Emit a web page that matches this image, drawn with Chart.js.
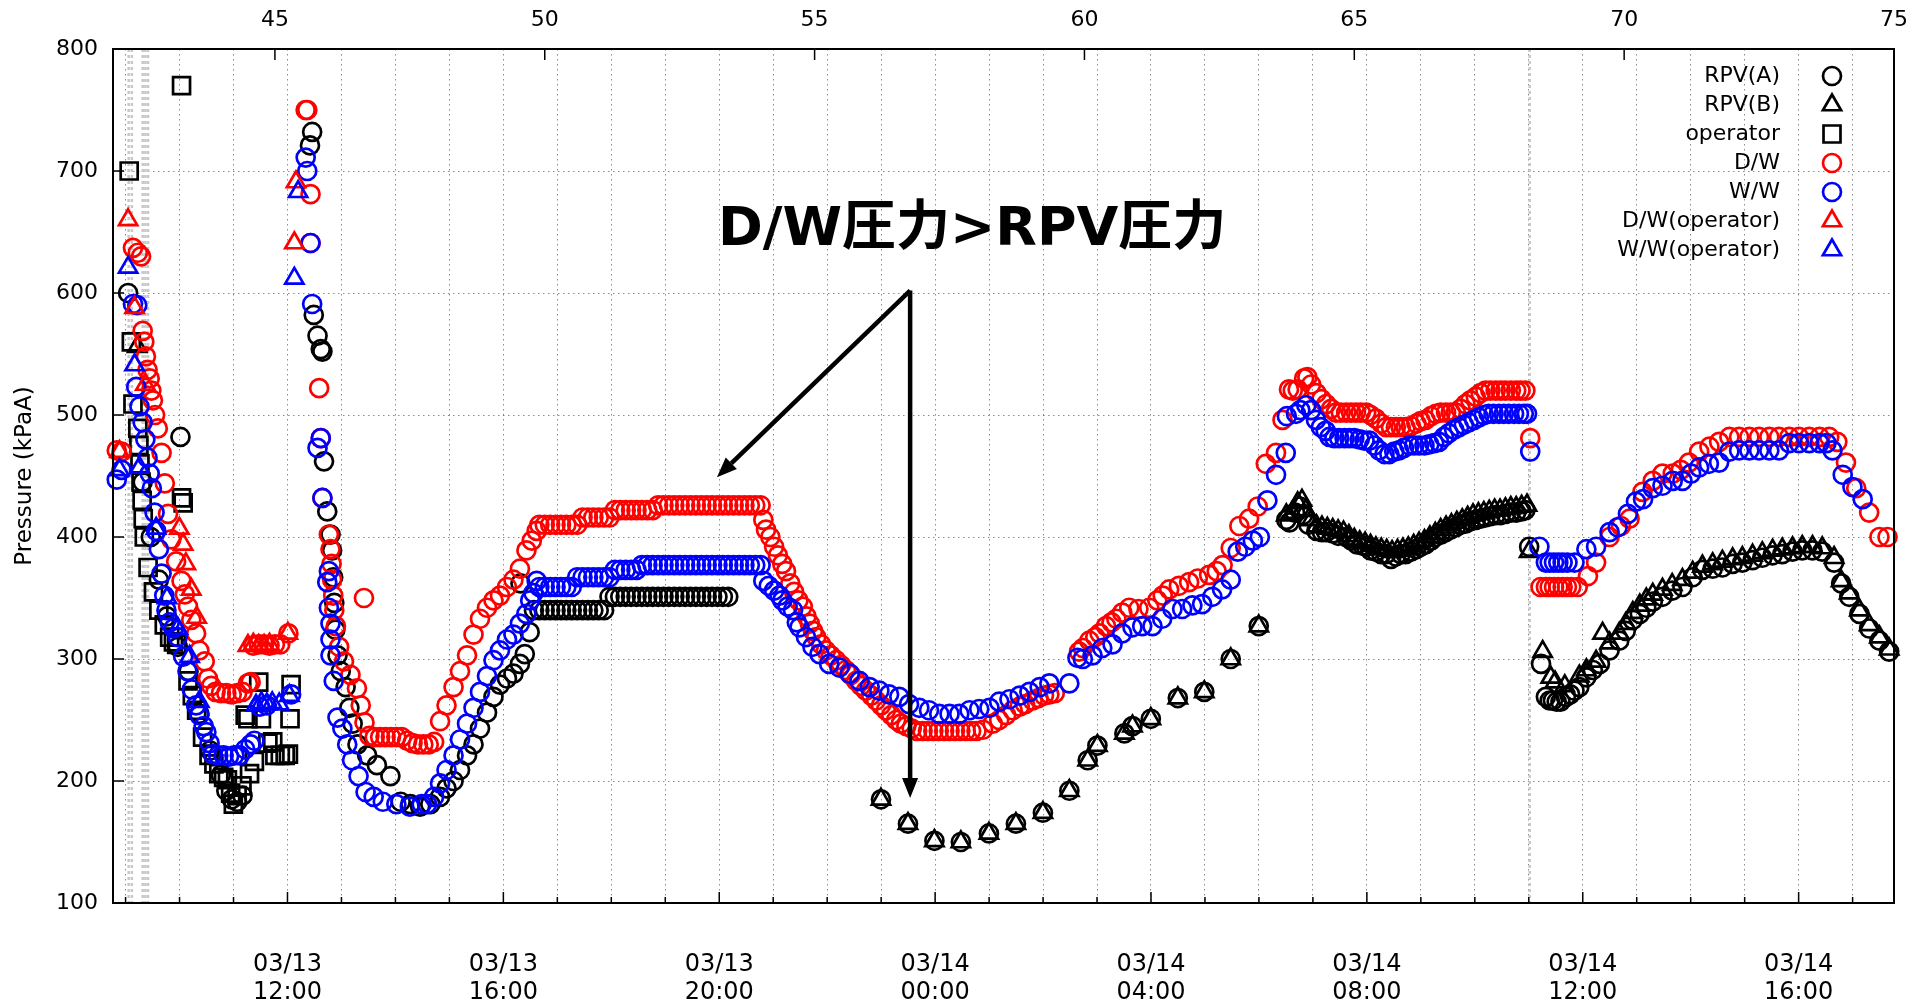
<!DOCTYPE html>
<html>
<head>
<meta charset="utf-8">
<script src="https://cdn.jsdelivr.net/npm/chart.js@4.4.0/dist/chart.umd.min.js"></script>
<style>
  html, body { margin: 0; padding: 0; background: #fff; }
</style>
</head>
<body>
<canvas id="pressureChart" width="1926" height="1003"></canvas>
<script>
// hours after 03/11 14:46, pressure kPaA
const rpvA = [
  [42.28,600],[42.55,445],[42.7,400],[42.85,365],[43.0,335],[43.2,310],[43.25,482],[43.4,290],[43.6,255],[43.8,225],[44.0,205],[44.1,192],[44.2,185],[44.3,183],[44.4,188],
  [45.65,721],[45.69,732],[45.72,582],[45.79,565],[45.85,554],[45.88,552],[45.91,462],[45.97,421],
  [46.03,402],[46.06,389],[46.08,367],[46.1,346],[46.12,324],[46.16,303],[46.22,290],[46.31,277],[46.38,260],[46.44,247],[46.53,230],[46.71,221],[46.89,213],[47.14,204],[47.33,183],[47.51,181],[47.69,179],[47.88,181],
  [48.06,187],[48.18,194],[48.31,200],[48.43,209],[48.56,221],[48.68,230],[48.8,243],[48.93,256],[49.05,269],[49.17,279],[49.3,284],[49.42,288],[49.54,296],[49.55,362],[49.63,304],[49.72,322],
  [49.8,340],[49.9,340],[50.0,340],[50.1,340],[50.2,340],[50.3,340],[50.4,340],[50.5,340],[50.6,340],[50.7,340],[50.8,340],[50.9,340],[51.0,340],[51.1,340],
  [51.2,351],[51.3,351],[51.4,351],[51.5,351],[51.6,351],[51.7,351],[51.8,351],[51.9,351],[52.0,351],[52.1,351],[52.2,351],[52.3,351],[52.4,351],[52.5,351],[52.6,351],[52.7,351],[52.8,351],[52.9,351],[53.0,351],[53.1,351],[53.2,351],[53.3,351],[53.4,351],
  [56.23,185],[56.73,165],[57.22,151],[57.71,150],[58.23,157],[58.73,165],[59.23,174],[59.72,192],[60.06,217],[60.24,229],[60.74,239],[60.89,245],[61.23,251],[61.73,268],[62.22,273],[62.71,300],[63.23,327],
  [63.74,414],[63.8,412],[63.9,420],[63.99,425],[64.05,418],[64.15,410],[64.3,405],[64.4,404],[64.48,404],[64.6,403],[64.7,401],[64.85,400],[64.95,397],[65.05,394],[65.15,393],[65.22,392],[65.3,389],[65.4,388],[65.5,386],[65.59,386],[65.68,382],[65.77,384],[65.86,386],[65.95,386],[66.05,388],[66.15,390],[66.23,392],[66.32,394],[66.42,397],[66.5,400],[66.6,402],[66.69,404],[66.78,406],[66.88,408],[66.97,410],[67.06,411],[67.15,413],[67.25,414],[67.34,415],[67.43,416],[67.52,417],[67.62,418],[67.71,418],[67.8,419],[67.9,420],[68.0,420],[68.1,421],[68.17,422],[68.24,392],
  [68.46,296],[68.55,269],[68.62,266],[68.68,266],[68.75,265],[68.82,265],[68.92,269],[69.0,271],[69.08,274],[69.17,277],[69.3,285],[69.42,291],[69.55,296],[69.73,307],[69.91,315],[70.03,323],[70.16,332],[70.29,337],[70.41,342],[70.53,347],[70.71,351],[70.89,356],[71.08,359],[71.27,367],[71.45,373],[71.64,374],[71.82,375],[72.01,378],[72.19,379],[72.38,381],[72.56,383],[72.75,385],[72.93,386],[73.12,388],[73.3,389],[73.49,389],[73.67,388],[73.89,379],[74.02,362],[74.17,351],[74.36,337],[74.54,325],[74.73,315],[74.91,306]
];

const rpvB = [
  [42.45,556],
  [56.23,185],[56.73,165],[57.22,151],[57.71,150],[58.23,157],[58.73,165],[59.23,174],[59.72,192],[60.06,217],[60.24,229],[60.74,239],[60.89,245],[61.23,251],[61.73,268],[62.22,273],[62.71,300],[63.23,327],
  [63.74,418],[63.85,420],[63.95,428],[64.03,430],[64.1,422],[64.2,414],[64.3,409],[64.4,408],[64.5,407],[64.6,406],[64.7,405],[64.8,404],[64.9,401],[65.0,398],[65.1,396],[65.2,395],[65.3,393],[65.4,391],[65.5,390],[65.6,389],[65.7,388],[65.8,389],[65.9,390],[66.0,391],[66.1,393],[66.2,395],[66.3,397],[66.4,400],[66.5,403],[66.6,406],[66.7,408],[66.8,410],[66.9,412],[67.0,414],[67.1,416],[67.2,418],[67.3,419],[67.4,420],[67.5,421],[67.6,422],[67.7,422],[67.8,423],[67.9,424],[68.0,424],[68.1,425],[68.2,426],[68.24,388],
  [68.49,306],[68.64,285],[68.72,281],[68.9,278],[69.17,286],[69.3,291],[69.48,298],[69.6,321],[69.73,313],[69.91,321],[70.03,329],[70.16,338],[70.29,344],[70.41,349],[70.53,353],[70.71,357],[70.89,361],[71.08,365],[71.27,371],[71.45,376],[71.64,378],[71.82,380],[72.01,382],[72.19,383],[72.38,385],[72.56,387],[72.75,389],[72.93,390],[73.12,391],[73.3,392],[73.49,392],[73.67,391],[73.89,383],[74.02,364],[74.17,354],[74.36,340],[74.54,328],[74.73,318],[74.91,308]
];

const operator = [
  [42.3,700],[43.27,770],[42.34,560],[42.37,509],[42.46,489],[42.48,475],[42.5,460],[42.52,445],[42.54,430],[42.56,415],[42.58,400],[42.65,375],[42.75,355],[42.85,340],[42.95,328],[43.05,318],[43.12,314],[43.18,312],[43.27,432],[43.3,428],
  [43.39,282],[43.47,270],[43.55,258],[43.66,236],[43.78,221],[43.87,214],[43.96,206],[44.05,203],[44.12,201],[44.18,190],[44.23,181],[44.3,188],[44.39,196],[44.45,254],[44.5,251],[44.53,206],[44.62,216],[44.7,281],[44.75,251],[44.87,231],[44.96,232],[45.0,221],[45.1,221],[45.19,221],[45.25,222],[45.28,251],[45.3,279]
];

const dw = [
  [42.07,471],[42.16,470],[42.37,637],[42.46,633],[42.52,630],[42.55,569],[42.58,560],[42.61,548],[42.64,537],[42.68,530],[42.71,520],[42.74,512],[42.78,500],[42.83,489],[42.9,469],[42.96,444],[43.02,419],[43.08,398],[43.17,380],[43.27,364],[43.33,353],[43.39,343],[43.45,332],[43.54,321],[43.6,307],[43.7,298],[43.76,284],[43.82,278],[43.9,273],[44.0,272],[44.1,272],[44.2,271],[44.3,272],[44.4,273],[44.5,280],[44.55,281],[44.6,311],[44.7,312],[44.8,312],[44.9,311],[45.0,312],[45.1,312],[45.25,321],
  [45.57,750],[45.6,750],[45.66,681],[45.66,641],[45.82,522],[45.85,481],[45.88,432],[46.0,402],[46.03,390],[46.05,378],[46.06,365],[46.08,352],[46.1,340],[46.13,327],[46.19,310],[46.28,298],[46.4,287],[46.52,276],[46.59,262],[46.65,350],[46.66,248],[46.75,237],[46.85,236],[46.95,236],[47.05,236],[47.15,236],[47.25,236],[47.35,236],[47.45,233],[47.55,231],[47.65,230],[47.75,230],[47.85,230],[47.95,232],
  [48.06,249],[48.18,262],[48.31,277],[48.43,290],[48.56,303],[48.68,320],[48.8,333],[48.93,342],[49.05,348],[49.17,352],[49.3,359],[49.42,365],[49.54,374],[49.66,389],[49.76,397],[49.85,405],
  [49.9,410],[50.0,410],[50.1,410],[50.2,410],[50.3,410],[50.4,410],[50.5,410],[50.6,410],
  [50.7,416],[50.8,416],[50.9,416],[51.0,416],[51.1,416],[51.2,416],
  [51.3,422],[51.4,422],[51.5,422],[51.6,422],[51.7,422],[51.8,422],[51.9,422],[52.0,422],
  [52.1,426],[52.2,426],[52.3,426],[52.4,426],[52.5,426],[52.6,426],[52.7,426],[52.8,426],[52.9,426],[53.0,426],[53.1,426],[53.2,426],[53.3,426],[53.4,426],[53.5,426],[53.6,426],[53.7,426],[53.8,426],[53.9,426],[54.0,426],
  [54.05,414],[54.1,406],[54.18,400],[54.25,392],[54.32,385],[54.4,378],[54.47,372],[54.55,362],[54.62,355],[54.7,348],[54.78,343],[54.85,335],[54.91,329],[54.97,323],[55.03,318],[55.12,312],[55.21,307],[55.3,303],[55.4,299],[55.49,295],[55.58,291],[55.67,287],[55.77,282],[55.86,278],[55.95,274],[56.05,270],[56.14,266],[56.23,262],[56.32,258],[56.42,254],[56.51,250],[56.6,247],[56.7,245],[56.8,243],[56.9,241],
  [57.0,241],[57.1,241],[57.2,241],[57.3,241],[57.4,241],[57.5,241],[57.6,241],[57.7,241],[57.8,241],[57.9,241],[58.0,241],[58.12,242],[58.3,247],[58.42,250],[58.55,254],[58.67,258],[58.8,261],[58.9,263],[59.04,266],[59.15,268],[59.25,270],[59.35,271],[59.45,272],
  [59.9,306],[59.97,309],[60.09,315],[60.2,318],[60.28,321],[60.4,327],[60.5,330],[60.59,333],[60.7,338],[60.83,342],[61.0,341],[61.2,342],[61.35,348],[61.45,352],[61.57,357],[61.75,360],[61.94,363],[62.1,366],[62.31,369],[62.45,372],[62.56,377],[62.71,391],[62.87,409],[63.05,415],[63.21,425],[63.36,460],[63.55,469],[63.67,496],[63.79,521],[63.86,520],[63.95,521],[64.07,530],[64.13,531],
  [64.2,525],[64.3,518],[64.39,513],[64.48,509],[64.57,505],[64.66,502],[64.75,502],[64.85,502],[64.94,502],[65.03,502],[65.12,502],[65.22,502],[65.3,500],[65.4,497],[65.5,493],[65.59,490],[65.68,490],[65.77,490],[65.86,490],[65.95,490],[66.05,491],[66.15,493],[66.23,495],[66.32,496],[66.42,499],[66.51,501],[66.6,502],[66.7,502],[66.79,502],[66.88,502],[66.97,505],[67.06,509],[67.15,512],[67.25,515],[67.34,518],[67.43,520],[67.52,520],[67.62,520],[67.71,520],[67.8,520],[67.9,520],[68.0,520],[68.08,520],[68.17,520],[68.26,481],
  [68.45,359],[68.55,359],[68.62,359],[68.7,359],[68.78,359],[68.86,359],[68.94,359],[69.02,359],[69.14,359],[69.33,368],[69.48,379],[69.73,400],[69.94,409],[70.1,415],[70.34,437],[70.53,446],[70.71,452],[70.9,452],[71.05,455],[71.2,461],[71.39,470],[71.58,474],[71.76,478],[71.95,482],[72.13,482],[72.32,482],[72.5,482],[72.69,482],[72.87,482],[73.06,482],[73.24,482],[73.43,482],[73.62,482],[73.8,482],[73.95,478],[74.11,461],[74.3,440],[74.54,420],[74.73,400],[74.88,400]
];

const ww = [
  [42.07,447],[42.16,455],[42.37,591],[42.45,590],[42.43,523],[42.49,507],[42.55,494],[42.6,480],[42.64,465],[42.68,452],[42.72,440],[42.77,420],[42.8,405],[42.85,390],[42.9,370],[42.95,352],[42.99,340],[43.05,330],[43.12,325],[43.2,318],[43.3,302],[43.38,290],[43.46,275],[43.54,262],[43.6,254],[43.68,245],[43.73,240],[43.79,231],[43.85,222],[43.95,221],[44.05,221],[44.15,220],[44.25,221],[44.35,221],[44.45,226],[44.55,230],[44.62,233],[44.72,261],[44.85,262],[45.3,271],
  [45.57,711],[45.6,700],[45.66,641],[45.69,591],[45.79,473],[45.85,481],[45.88,432],[46.0,372],[45.97,363],[46.0,342],[46.03,329],[46.03,316],[46.03,303],[46.09,282],[46.16,252],[46.25,243],[46.34,230],[46.43,217],[46.55,204],[46.68,191],[46.83,187],[47.0,183],[47.25,181],[47.5,179],[47.72,181],[47.82,181],[47.95,187],
  [48.06,198],[48.18,209],[48.31,221],[48.43,234],[48.56,247],[48.68,260],[48.8,273],[48.93,286],[49.05,299],[49.17,307],[49.3,316],[49.42,320],[49.54,329],[49.66,337],[49.73,348],[49.79,354],[49.85,364],
  [49.9,359],[50.0,359],[50.1,359],[50.2,359],[50.3,359],[50.4,359],[50.5,359],
  [50.6,367],[50.7,367],[50.8,367],[50.9,367],[51.0,367],[51.1,367],[51.2,367],
  [51.3,373],[51.4,373],[51.5,373],[51.6,373],[51.7,373],
  [51.8,377],[51.9,377],[52.0,377],[52.1,377],[52.2,377],[52.3,377],[52.4,377],[52.5,377],[52.6,377],[52.7,377],[52.8,377],[52.9,377],[53.0,377],[53.1,377],[53.2,377],[53.3,377],[53.4,377],[53.5,377],[53.6,377],[53.7,377],[53.8,377],[53.9,377],[54.0,377],
  [54.05,364],[54.15,360],[54.25,356],[54.35,352],[54.4,348],[54.5,343],[54.6,340],[54.67,330],[54.72,326],[54.84,318],[54.96,310],[55.09,304],[55.27,296],[55.46,293],[55.65,288],[55.83,282],[56.02,277],[56.2,274],[56.38,271],[56.57,269],[56.75,263],[56.94,260],[57.12,258],[57.31,255],[57.5,255],[57.68,255],[57.87,258],[58.05,259],[58.24,260],[58.42,265],[58.61,267],[58.8,270],[58.98,273],[59.17,277],[59.35,280],[59.72,280],
  [59.87,301],[59.97,300],[60.15,303],[60.33,309],[60.52,312],[60.7,321],[60.89,326],[61.07,327],[61.26,327],[61.44,333],[61.63,341],[61.81,341],[62.0,344],[62.18,345],[62.37,351],[62.55,357],[62.71,365],[62.84,388],[62.98,392],[63.12,397],[63.25,400],[63.39,430],[63.55,451],[63.73,469],[63.75,499],[63.92,501],[64.0,504],[64.11,508],
  [64.2,504],[64.29,496],[64.38,490],[64.47,487],[64.54,482],[64.63,481],[64.72,481],[64.82,481],[64.91,481],[65.0,481],[65.1,480],[65.19,479],[65.28,479],[65.37,475],[65.46,471],[65.56,468],[65.65,468],[65.74,470],[65.83,471],[65.92,473],[66.02,475],[66.11,475],[66.2,475],[66.3,475],[66.39,476],[66.48,477],[66.57,478],[66.66,482],[66.75,485],[66.85,488],[66.94,490],[67.03,492],[67.12,494],[67.22,496],[67.31,498],[67.4,500],[67.49,501],[67.58,501],[67.68,501],[67.77,501],[67.86,501],[67.96,501],[68.05,501],[68.14,501],[68.2,501],[68.26,470],
  [68.43,392],[68.55,379],[68.62,379],[68.7,379],[68.78,379],[68.86,379],[68.95,379],[69.08,379],[69.3,390],[69.48,392],[69.73,404],[69.88,408],[70.07,419],[70.22,429],[70.35,431],[70.53,440],[70.71,442],[70.9,446],[71.08,446],[71.24,452],[71.39,457],[71.57,460],[71.76,461],[71.95,470],[72.13,471],[72.32,471],[72.5,471],[72.69,471],[72.87,471],[73.06,477],[73.24,477],[73.43,477],[73.62,477],[73.75,477],[73.86,471],[74.05,451],[74.23,441],[74.42,431]
];

const dwOperator = [
  [42.12,470],[42.28,660],[42.4,588],[42.6,525],[43.23,407],[43.3,394],[43.35,378],[43.45,357],[43.55,334],[44.5,311],[44.6,312],[44.7,311],[44.8,311],[44.9,312],[45.24,321],[45.36,641],[45.39,691]
];

const wwOperator = [
  [42.12,455],[42.28,621],[42.4,541],[42.49,457],[42.8,407],[43.0,350],[43.2,325],[43.42,302],[43.6,265],[44.65,262],[44.75,264],[44.85,263],[44.95,264],[45.08,263],[45.27,270],[45.36,612],[45.43,683]
];

const seriesNames = ["RPV(A)", "RPV(B)", "operator", "D/W", "W/W", "D/W(operator)", "W/W(operator)"];
const topTicks = [45, 50, 55, 60, 65, 70, 75];
const dateTickHours = [45.233, 49.233, 53.233, 57.233, 61.233, 65.233, 69.233, 73.233];
const dateLabels = [
  ["03/13", "12:00"], ["03/13", "16:00"], ["03/13", "20:00"], ["03/14", "00:00"],
  ["03/14", "04:00"], ["03/14", "08:00"], ["03/14", "12:00"], ["03/14", "16:00"]
];
const eventHours = [42.29, 42.35, 42.55, 42.6, 42.65, 68.25];

const noteText = "D/W圧力>RPV圧力";
const notePos = [53.21, 651];
const arrowFrom = [56.77, 602];
const arrowTips = [[53.19, 449], [56.77, 186]];

const FONT = "'DejaVu Sans', 'Noto Sans CJK JP', sans-serif";

// every hour on the clock, used for the dotted grid
const hourGrid = [];
for (let h = 42.233; h < 75; h += 1) hourGrid.push(+h.toFixed(3));

const toPoints = (rows) => rows.map(([x, y]) => ({ x: x, y: y }));

const styles = [
  { color: "#000000", shape: "circle", r: 9 },
  { color: "#000000", shape: "triangle", r: 10.5 },
  { color: "#000000", shape: "rect", r: 12 },
  { color: "#ff0000", shape: "circle", r: 9 },
  { color: "#0000ff", shape: "circle", r: 9 },
  { color: "#ff0000", shape: "triangle", r: 10.5 },
  { color: "#0000ff", shape: "triangle", r: 10.5 }
];
const seriesData = [rpvA, rpvB, operator, dw, ww, dwOperator, wwOperator];

const datasets = seriesData.map((rows, i) => ({
  label: seriesNames[i],
  data: toPoints(rows),
  pointStyle: styles[i].shape,
  pointRadius: styles[i].r,
  borderColor: styles[i].color,
  backgroundColor: "rgba(0,0,0,0)",
  borderWidth: 2.7,
  showLine: false,
  clip: false,
  order: 10 - i
}));

function markerPath(ctx, shape, r, cx, cy) {
  ctx.beginPath();
  if (shape === "circle") {
    ctx.arc(cx, cy, r, 0, Math.PI * 2);
  } else if (shape === "rect") {
    const s = r * Math.SQRT1_2;
    ctx.rect(cx - s, cy - s, 2 * s, 2 * s);
  } else {
    let a = 0;
    ctx.moveTo(cx + Math.sin(a) * r, cy - Math.cos(a) * r);
    a += Math.PI * 2 / 3;
    ctx.lineTo(cx + Math.sin(a) * r, cy - Math.cos(a) * r);
    a += Math.PI * 2 / 3;
    ctx.lineTo(cx + Math.sin(a) * r, cy - Math.cos(a) * r);
    ctx.closePath();
  }
}

function drawArrow(ctx, x1, y1, x2, y2) {
  const ang = Math.atan2(y2 - y1, x2 - x1);
  const len = 20, half = 8;
  const bx = x2 - Math.cos(ang) * len, by = y2 - Math.sin(ang) * len;
  ctx.beginPath();
  ctx.moveTo(x1, y1);
  ctx.lineTo(bx, by);
  ctx.stroke();
  ctx.beginPath();
  ctx.moveTo(x2, y2);
  ctx.lineTo(bx + Math.sin(ang) * half, by - Math.cos(ang) * half);
  ctx.lineTo(bx - Math.sin(ang) * half, by + Math.cos(ang) * half);
  ctx.closePath();
  ctx.fill();
}

const overlay = {
  id: "overlay",
  beforeDatasetsDraw(chart) {
    const { ctx, chartArea: a } = chart;
    const x = chart.scales.x;
    ctx.save();
    ctx.strokeStyle = "#c8c8c8";
    ctx.lineWidth = 2.5;
    ctx.setLineDash([3, 3]);
    eventHours.forEach((h) => {
      const px = x.getPixelForValue(h);
      ctx.beginPath();
      ctx.moveTo(px, a.top);
      ctx.lineTo(px, a.bottom);
      ctx.stroke();
    });
    ctx.restore();
  },
  afterDatasetsDraw(chart) {
    const { ctx, chartArea: a } = chart;
    const x = chart.scales.x, y = chart.scales.y, xt = chart.scales.xTop;
    ctx.save();

    // frame and inward ticks
    ctx.strokeStyle = "#000";
    ctx.lineWidth = 2;
    ctx.strokeRect(a.left, a.top, a.right - a.left, a.bottom - a.top);
    ctx.lineWidth = 1.5;
    ctx.beginPath();
    hourGrid.forEach((h) => {
      const px = x.getPixelForValue(h);
      const major = dateTickHours.some((d) => Math.abs(d - h) < 0.01);
      ctx.moveTo(px, a.bottom);
      ctx.lineTo(px, a.bottom - (major ? 11 : 6));
    });
    topTicks.forEach((t) => {
      const px = xt.getPixelForValue(t);
      ctx.moveTo(px, a.top);
      ctx.lineTo(px, a.top + 11);
    });
    for (let v = 200; v < 800; v += 100) {
      const py = y.getPixelForValue(v);
      ctx.moveTo(a.left, py);
      ctx.lineTo(a.left + 11, py);
    }
    ctx.stroke();

    // legend, text on the left, hollow marker on the right
    ctx.font = "22px " + FONT;
    ctx.fillStyle = "#000";
    ctx.textAlign = "right";
    ctx.textBaseline = "middle";
    seriesNames.forEach((name, i) => {
      const rowY = 76 + i * 29;
      ctx.fillText(name, 1780, rowY);
      markerPath(ctx, styles[i].shape, styles[i].r, 1832, rowY);
      ctx.strokeStyle = styles[i].color;
      ctx.lineWidth = 2.7;
      ctx.stroke();
    });

    // annotation
    ctx.font = "bold 54px " + FONT;
    ctx.textAlign = "left";
    ctx.fillStyle = "#000";
    ctx.fillText(noteText, x.getPixelForValue(notePos[0]), y.getPixelForValue(notePos[1]));
    ctx.strokeStyle = "#000";
    ctx.lineWidth = 4.5;
    const fx = x.getPixelForValue(arrowFrom[0]), fy = y.getPixelForValue(arrowFrom[1]);
    arrowTips.forEach(([th, tp]) => {
      drawArrow(ctx, fx, fy, x.getPixelForValue(th), y.getPixelForValue(tp));
    });
    ctx.restore();
  }
};

Chart.defaults.font.family = FONT;
Chart.defaults.color = "#000";

new Chart(document.getElementById("pressureChart").getContext("2d"), {
  type: "scatter",
  data: { datasets: datasets },
  options: {
    responsive: false,
    animation: false,
    events: [],
    layout: { padding: { left: 0, right: 32, top: 0, bottom: 0 } },
    plugins: { legend: { display: false }, tooltip: { enabled: false } },
    scales: {
      x: {
        type: "linear",
        position: "bottom",
        min: 42,
        max: 75,
        afterBuildTicks: (scale) => { scale.ticks = hourGrid.map((v) => ({ value: v })); },
        afterFit: (scale) => { scale.height = 100; },
        ticks: {
          autoSkip: false,
          maxRotation: 0,
          minRotation: 0,
          padding: 47,
          font: { size: 24 },
          callback: (value) => {
            const i = dateTickHours.findIndex((h) => Math.abs(h - value) < 0.01);
            return i >= 0 ? dateLabels[i] : "";
          }
        },
        grid: { color: "rgba(0,0,0,0.45)", lineWidth: 1, drawTicks: false },
        border: { display: false, dash: [1.5, 3.5] }
      },
      xTop: {
        type: "linear",
        position: "top",
        min: 42,
        max: 75,
        afterBuildTicks: (scale) => { scale.ticks = topTicks.map((v) => ({ value: v })); },
        afterFit: (scale) => { scale.height = 49; },
        ticks: { autoSkip: false, maxRotation: 0, padding: 16, font: { size: 22 } },
        grid: { display: false, drawTicks: false },
        border: { display: false }
      },
      y: {
        min: 100,
        max: 800,
        afterFit: (scale) => { scale.width = 113; },
        ticks: { stepSize: 100, padding: 15, font: { size: 22 } },
        grid: { color: "rgba(0,0,0,0.45)", lineWidth: 1, drawTicks: false },
        border: { display: false, dash: [1.5, 3.5] },
        title: { display: true, text: "Pressure (kPaA)", font: { size: 23 }, padding: { top: 11, bottom: 6 } }
      }
    }
  },
  plugins: [overlay]
});
</script>
</body>
</html>
